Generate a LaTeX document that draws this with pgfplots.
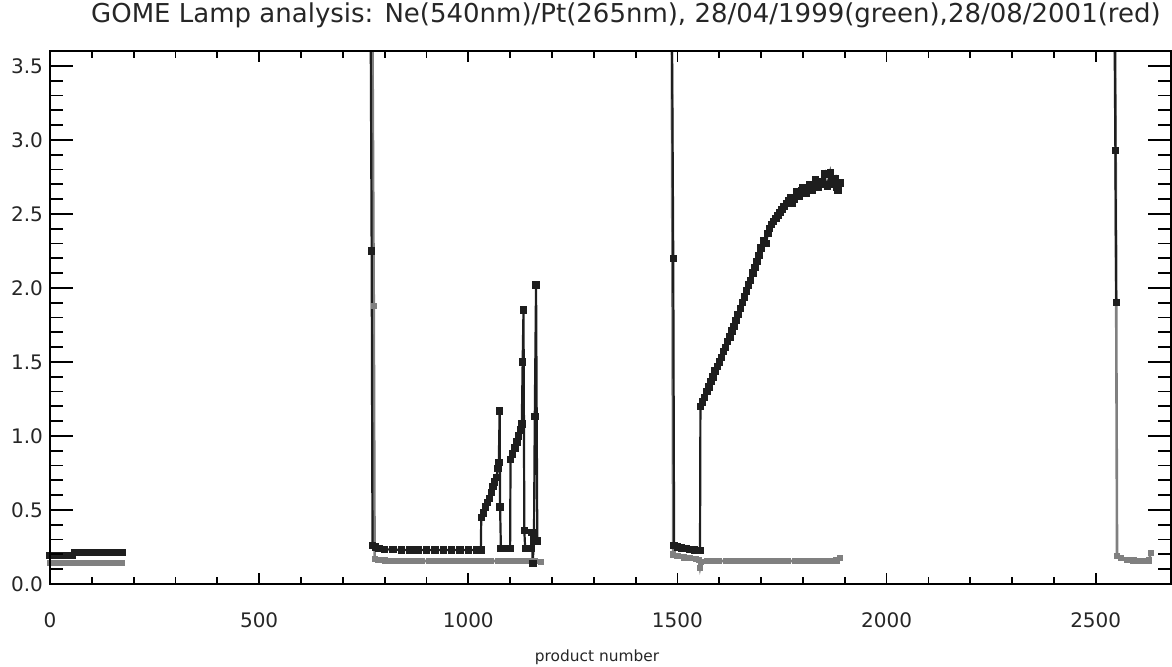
\documentclass[border=0pt]{standalone}
\usepackage{fontspec}
\setmainfont{DejaVu Sans}
\usepackage{pgfplots}
\pgfplotsset{compat=1.18}
\usepackage{pgfplotstable}

\definecolor{blk}{RGB}{30,30,30}
\definecolor{gry}{RGB}{128,128,128}

\pgfplotstableread{
x y
0 0.195
6 0.195
12 0.195
18 0.195
24 0.195
30 0.195
36 0.195
42 0.195
48 0.195
54 0.195
58 0.212
64 0.212
70 0.212
76 0.212
82 0.212
88 0.212
94 0.212
100 0.212
106 0.212
112 0.212
118 0.212
124 0.212
130 0.212
136 0.212
142 0.212
148 0.212
154 0.212
160 0.212
166 0.212
172 0.212
nan nan
766 4.2
769 2.25
771 0.26
778 0.25
786 0.24
800 0.235
820 0.232
840 0.23
860 0.23
880 0.23
900 0.23
920 0.23
940 0.23
960 0.23
980 0.23
1000 0.23
1020 0.23
1030 0.23
1031 0.45
1036 0.48
1041 0.52
1046 0.55
1051 0.58
1055 0.62
1059 0.66
1063 0.69
1067 0.72
1071 0.78
1073 0.82
1075 1.17
1076 0.52
1078 0.24
1085 0.24
1093 0.24
1100 0.24
1101 0.84
1106 0.88
1111 0.92
1116 0.96
1120 1.00
1124 1.04
1128 1.08
1130 1.50
1132 1.85
1134 0.36
1136 0.24
1143 0.24
1150 0.24
1152 0.35
1154 0.14
1157 0.30
1159 1.13
1162 2.02
1165 0.29
nan nan
1486 4.2
1490 2.2
1492 0.26
1500 0.25
1510 0.245
1520 0.24
1530 0.235
1540 0.23
1548 0.228
1554 0.225
1555 1.20
1560 1.23
1565 1.26
1570 1.30
1575 1.33
1580 1.37
1585 1.40
1590 1.44
1595 1.47
1600 1.50
1605 1.53
1610 1.57
1615 1.60
1620 1.64
1625 1.67
1630 1.71
1635 1.74
1640 1.78
1645 1.82
1650 1.86
1655 1.90
1660 1.94
1665 1.98
1670 2.02
1675 2.05
1680 2.10
1685 2.14
1690 2.18
1695 2.22
1700 2.27
1705 2.32
1712 2.30
1716 2.37
1720 2.40
1725 2.43
1730 2.45
1735 2.47
1740 2.49
1745 2.51
1750 2.53
1755 2.55
1760 2.57
1765 2.59
1770 2.61
1774 2.57
1778 2.60
1785 2.65
1792 2.62
1796 2.66
1800 2.68
1807 2.64
1811 2.67
1815 2.70
1822 2.66
1826 2.69
1830 2.73
1837 2.68
1841 2.71
1845 2.72
1852 2.77
1855 2.70
1858 2.69
1865 2.78
1868 2.72
1872 2.70
1878 2.74
1881 2.68
1884 2.66
1888 2.71
nan nan
2544 4.2
2547 2.93
2549 1.90
}\blackdata

\pgfplotstableread{
x y
0 0.145
6 0.145
12 0.145
18 0.145
24 0.145
30 0.145
36 0.145
42 0.145
48 0.145
54 0.145
60 0.145
66 0.145
72 0.145
78 0.145
84 0.145
90 0.145
96 0.145
102 0.145
108 0.145
114 0.145
120 0.145
126 0.145
132 0.145
138 0.145
144 0.145
150 0.145
156 0.145
162 0.145
168 0.145
172 0.145
nan nan
770 4.2
774 1.88
776 0.17
785 0.165
800 0.16
815 0.155
830 0.155
845 0.155
860 0.155
875 0.155
890 0.155
905 0.155
920 0.155
935 0.155
950 0.155
965 0.155
980 0.155
995 0.155
1010 0.155
1025 0.155
1040 0.155
1055 0.155
1070 0.155
1085 0.155
1100 0.155
1115 0.155
1130 0.155
1145 0.155
1160 0.155
1173 0.15
nan nan
1486 4.2
1490 0.20
1500 0.19
1515 0.18
1530 0.175
1545 0.17
1551 0.165
1554 0.11
1557 0.15
1570 0.155
1585 0.155
1600 0.155
1615 0.155
1630 0.155
1645 0.155
1660 0.155
1675 0.155
1690 0.155
1705 0.155
1720 0.155
1735 0.155
1750 0.155
1765 0.155
1780 0.155
1795 0.155
1810 0.155
1825 0.155
1840 0.155
1855 0.155
1870 0.155
1880 0.16
1888 0.175
nan nan
2546 4.2
2549 1.90
2551 0.19
2560 0.175
2575 0.165
2590 0.16
2605 0.155
2620 0.155
2628 0.16
2631 0.21
}\graydata

\pgfplotsset{
  base/.style={
    scale only axis, width=560.5pt, height=266.5pt,
    at={(0,0)}, anchor=south west,
    xmin=0, xmax=2680, ymin=0, ymax=3.6,
    axis line style={line width=1.1pt, black},
    tick align=inside,
    every tick/.style={line width=0.9pt, black},
    /pgf/number format/assume math mode=true,
    tick label style={font=\fontsize{10}{12}\selectfont, text=black!85},
    unbounded coords=jump,
  }
}

\begin{document}
\begin{tikzpicture}
\useasboundingbox (-25pt,-41.5pt) rectangle (561pt,292pt);
\begin{axis}[base,
  xtick={0,500,1000,1500,2000,2500},
  minor x tick num=4,
  major tick length=5.5pt, minor tick length=3.5pt,
  ytick=\empty,
  xticklabel style={anchor=center, yshift=-18pt},
  xticklabel={\pgfmathprintnumber[fixed,int detect,1000 sep={}]{\tick}},
]
\addplot[gry, line width=1.3pt, mark=none] table {\graydata};
\addplot[gry, only marks, mark=square*, mark size=1.3pt, restrict y to domain=-1:3.6] table {\graydata};
\addplot[blk, line width=1.1pt, mark=none] table {\blackdata};
\addplot[blk, only marks, mark=square*, mark size=1.6pt, restrict y to domain=-1:3.6] table {\blackdata};
\end{axis}
\begin{axis}[base,
  xtick=\empty,
  ytick={0,0.5,1,1.5,2,2.5,3,3.5},
  minor y tick num=4,
  major tick length=11.5pt, minor tick length=6.5pt,
  yticklabel style={/pgf/number format/.cd, fixed, fixed zerofill, precision=1},
]
\end{axis}
\node[text=black!85, font=\fontsize{13}{15}\selectfont] at (288pt,284.5pt) {GOME Lamp analysis: Ne(540nm)/Pt(265nm), 28/04/1999(green),28/08/2001(red)};
\node[text=black!85, font=\fontsize{7.7}{9}\selectfont] at (273.5pt,-36.5pt) {product number};
\end{tikzpicture}
\end{document}
